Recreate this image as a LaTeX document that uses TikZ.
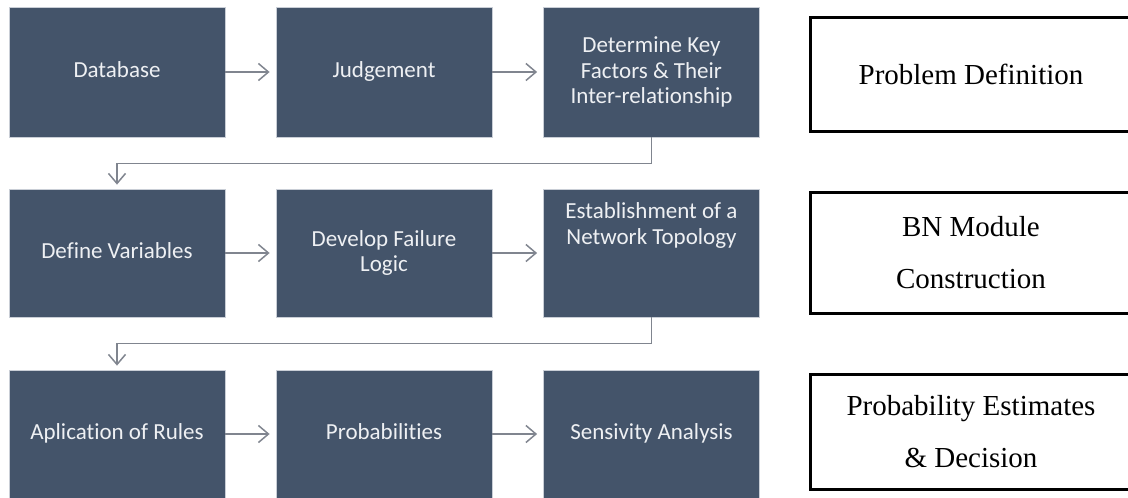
\documentclass[tikz,border=0pt]{standalone}
\usepackage{fontspec}
\setmainfont{Liberation Serif}
\newfontfamily\calib[Ligatures=NoCommon]{Carlito}
\usetikzlibrary{arrows.meta}
\definecolor{boxfill}{HTML}{44546A}
\definecolor{boxedge}{HTML}{C9CED6}
\definecolor{boxtext}{HTML}{EEF0F3}
\definecolor{conn}{HTML}{80858F}
\begin{document}
\begin{tikzpicture}[x=1pt,y=-1pt,
  stepbox/.style={draw=boxedge, line width=0.8pt, fill=boxfill, text=boxtext,
    minimum width=216pt, minimum height=128pt, align=center, inner sep=0pt,
    font=\calib\fontsize{23}{25.5}\selectfont},
  oneline/.style={text height=16pt, text depth=5pt},
  phase/.style={draw=black, line width=3pt, minimum width=322pt, minimum height=114pt,
    align=center, inner sep=0pt, font=\fontsize{29}{52}\selectfont},
  flow/.style={draw=conn, line width=1.5pt, -{Straight Barb[length=10pt,width=17pt]}}]
\useasboundingbox (0,0) rectangle (1128,498);
\clip (0,0) rectangle (1128,498);
% row 1
\node[stepbox, oneline, minimum height=130pt] (db) at (117,72) {Database};
\node[stepbox, oneline, minimum height=130pt] (jd) at (384,72) {Judgement};
\node[stepbox, minimum height=130pt] (kf) at (651.5,72) {Determine Key\\Factors \& Their\\Inter-relationship};
% row 2
\node[stepbox, oneline] (dv) at (117,253) {Define Variables};
\node[stepbox] (fl) at (384,253) {Develop Failure\\Logic};
\node[stepbox] (nt) at (651.5,253) {Establishment of a\\Network Topology\\\strut\\\strut};
% row 3
\node[stepbox, oneline] (ar) at (117,434) {Aplication of Rules};
\node[stepbox, oneline] (pb) at (384,434) {Probabilities};
\node[stepbox, oneline] (sa) at (651.5,434) {Sensivity Analysis};
% horizontal arrows
\draw[flow, shorten >=6pt] (db.east) -- (jd.west);
\draw[flow, shorten >=6pt] (jd.east) -- (kf.west);
\draw[flow, shorten >=6pt] (dv.east) -- (fl.west);
\draw[flow, shorten >=6pt] (fl.east) -- (nt.west);
\draw[flow, shorten >=6pt] (ar.east) -- (pb.west);
\draw[flow, shorten >=6pt] (pb.east) -- (sa.west);
% row connectors
\draw[flow, shorten >=4pt] (kf.south) -- ++(0,26) -| (dv.north);
\draw[flow, shorten >=4pt] (nt.south) -- ++(0,26) -| (ar.north);
% phase boxes
\node[phase] (p1) at (971,74) {Problem Definition};
\node[phase, minimum height=121pt] (p2) at (971,252.5) {BN Module\\Construction};
\node[phase, minimum height=115pt] (p3) at (971,431.5) {Probability Estimates\\\& Decision};
\end{tikzpicture}
\end{document}
